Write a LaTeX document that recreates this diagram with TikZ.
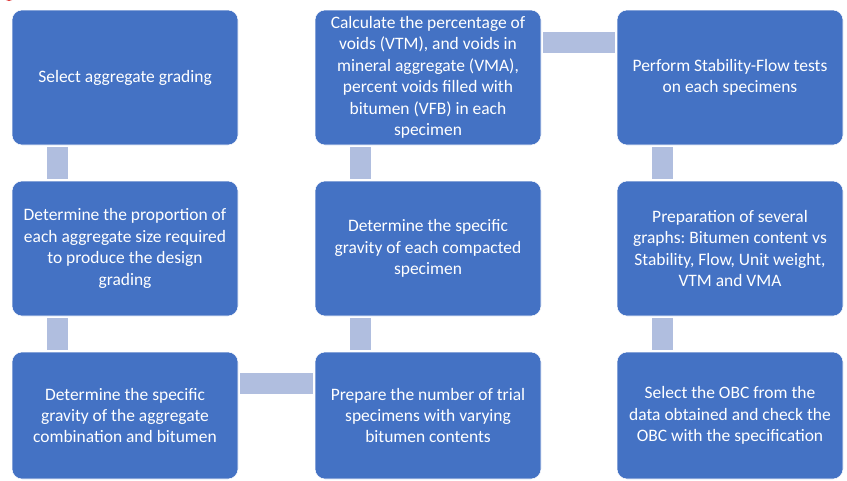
\documentclass[tikz,border=0pt]{standalone}
\usepackage{fontspec}
\setmainfont{Carlito}
\usepackage{tikz}
\usetikzlibrary{positioning}
\definecolor{stageblue}{HTML}{4472C4}
\definecolor{linkblue}{HTML}{B0BEDF}
\definecolor{markred}{HTML}{E0403F}
\frenchspacing

\begin{document}
\begin{tikzpicture}[x=0.75pt,y=-0.75pt,
  stage/.style={rectangle,rounded corners=7.5pt,fill=stageblue,draw=white,line width=0.4pt,text=white,align=center,minimum width=169.5pt,minimum height=101.25pt,inner sep=0pt,font=\fontsize{13.1}{16.1}\selectfont},
  laststage/.style={stage,minimum height=95.25pt},
  link/.style={draw=linkblue,line width=15.75pt,shorten >=1.5pt,shorten <=1.5pt}]
\useasboundingbox (0,0) rectangle (847,480);
\begin{scope}
\clip (0,0) rectangle (847,480);
\fill[markred] (9,-3) ellipse (5 and 4);
\end{scope}
% first column
\node at (125,77.5)[stage](s1){Select aggregate grading};
\node at (125,248.5)[stage](s2){Determine the proportion of\\each aggregate size required\\to produce the design\\grading};
\node at (125,415.5)[laststage](s3){Determine the specific\\gravity of the aggregate\\combination and bitumen};
% second column
\node at (428,415.5)[laststage](s4){Prepare the number of trial\\specimens with varying\\bitumen contents};
\node at (428,248.5)[stage](s5){Determine the specific\\gravity of each compacted\\specimen};
\node at (428,77.5)[stage](s6){Calculate the percentage of\\voids (VTM), and voids in\\mineral aggregate (VMA),\\percent voids filled with\\bitumen (VFB) in each\\specimen};
% third column
\node at (730,77.5)[stage](s7){Perform Stability-Flow tests\\on each specimens};
\node at (730,248.5)[stage](s8){Preparation of several\\graphs: Bitumen content vs\\Stability, Flow, Unit weight,\\VTM and VMA};
\node at (730,415.5)[laststage](s9){Select the OBC from the\\data obtained and check the\\OBC with the specification};
% links
\draw[link] ([shift={(45.5,0)}]s1.south west) -- ([shift={(45.5,0)}]s2.north west);
\draw[link] ([shift={(45.5,0)}]s2.south west) -- ([shift={(45.5,0)}]s3.north west);
\draw[link] ([shift={(0,31.5)}]s3.north east) -- ([shift={(0,31.5)}]s4.north west);
\draw[link] ([shift={(45.5,0)}]s4.north west) -- ([shift={(45.5,0)}]s5.south west);
\draw[link] ([shift={(45.5,0)}]s5.north west) -- ([shift={(45.5,0)}]s6.south west);
\draw[link] ([shift={(0,33)}]s6.north east) -- ([shift={(0,33)}]s7.north west);
\draw[link] ([shift={(45.5,0)}]s7.south west) -- ([shift={(45.5,0)}]s8.north west);
\draw[link] ([shift={(45.5,0)}]s8.south west) -- ([shift={(45.5,0)}]s9.north west);
\end{tikzpicture}
\end{document}
